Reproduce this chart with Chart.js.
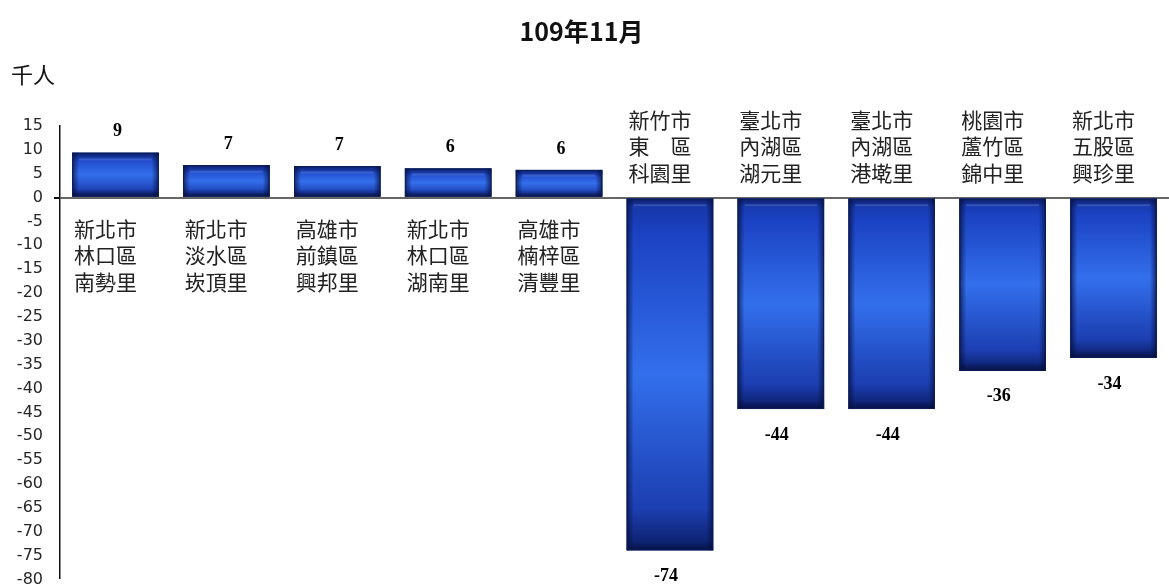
<!DOCTYPE html>
<html>
<head>
<meta charset="utf-8">
<title>109年11月</title>
<script src="https://cdn.jsdelivr.net/npm/chart.js@4/dist/chart.umd.min.js"></script>
<style>
  html, body { margin: 0; padding: 0; background: #fff; overflow: hidden; }
  #wrap { width: 1169px; height: 600px; position: relative; }
</style>
</head>
<body>
<div id="wrap"><canvas id="chart"></canvas></div>
<script>
// 109年11月 各村里人口增減（千人）
const title = '109年11月';
const unitLabel = '千人';

const villages = [
  ['新北市', '林口區', '南勢里'],
  ['新北市', '淡水區', '崁頂里'],
  ['高雄市', '前鎮區', '興邦里'],
  ['新北市', '林口區', '湖南里'],
  ['高雄市', '楠梓區', '清豐里'],
  ['新竹市', '東　區', '科園里'],
  ['臺北市', '內湖區', '湖元里'],
  ['臺北市', '內湖區', '港墘里'],
  ['桃園市', '蘆竹區', '錦中里'],
  ['新北市', '五股區', '興珍里']
];
const changes = [9.4, 6.8, 6.6, 6.1, 5.8, -73.9, -44.3, -44.3, -36.3, -33.6];

const yMin = -80;
const yMax = 15;
const yStep = 5;

// 長條立體漸層（依每根長條的位置重畫）
const barShade = {
  id: 'barShade',
  afterDatasetsDraw(chart) {
    const g = chart.ctx;
    g.save();
    chart.getDatasetMeta(0).data.forEach(el => {
      const top = Math.min(el.y, el.base);
      const bot = Math.max(el.y, el.base);
      const left = el.x - el.width / 2;
      const w = el.width;
      const hgt = bot - top;

      const base = g.createLinearGradient(0, top, 0, bot);
      base.addColorStop(0, '#1634a0');
      base.addColorStop(0.1, '#1b42c2');
      base.addColorStop(0.5, '#336fec');
      base.addColorStop(0.88, '#1c3fb2');
      base.addColorStop(1, '#0a1c62');
      g.fillStyle = base;
      g.fillRect(left, top, w, hgt);

      const h = g.createLinearGradient(left, 0, left + w, 0);
      h.addColorStop(0, 'rgba(5,12,55,0.7)');
      h.addColorStop(0.08, 'rgba(5,12,55,0)');
      h.addColorStop(0.92, 'rgba(5,12,55,0)');
      h.addColorStop(1, 'rgba(5,12,55,0.7)');
      g.fillStyle = h;
      g.fillRect(left, top, w, hgt);

      const e = Math.min(8, hgt / 4);
      const v1 = g.createLinearGradient(0, top, 0, top + e);
      v1.addColorStop(0, 'rgba(5,12,55,0.55)');
      v1.addColorStop(1, 'rgba(5,12,55,0)');
      g.fillStyle = v1;
      g.fillRect(left, top, w, e);
      const v2 = g.createLinearGradient(0, bot - e, 0, bot);
      v2.addColorStop(0, 'rgba(5,12,55,0)');
      v2.addColorStop(1, 'rgba(5,12,55,0.65)');
      g.fillStyle = v2;
      g.fillRect(left, bot - e, w, e);

      // 上緣高光
      g.fillStyle = 'rgba(140,170,240,0.25)';
      g.fillRect(left + w * 0.08, top + e * 0.7, w * 0.84, 2);

      g.strokeStyle = '#0c1d55';
      g.lineWidth = 1;
      g.strokeRect(left + 0.5, top + 0.5, w - 1, hgt - 1);
    });
    g.restore();
  }
};

// 標題、單位、村里名稱及數值
const labelsPlugin = {
  id: 'labelsPlugin',
  afterDraw(chart) {
    const g = chart.ctx;
    const y0 = chart.scales.y.getPixelForValue(0);
    g.save();
    g.fillStyle = '#111';
    g.textAlign = 'center';
    g.textBaseline = 'middle';
    g.font = 'bold 25px "Noto Sans CJK TC", "Noto Sans", sans-serif';
    g.fillText(title, chart.width / 2 - 3, 31);
    g.textAlign = 'left';
    g.font = '22px "Noto Sans CJK TC", sans-serif';
    g.fillText(unitLabel, 11, 75);

    chart.getDatasetMeta(0).data.forEach((el, i) => {
      const v = changes[i];
      g.fillStyle = '#000';
      g.textAlign = 'center';
      g.font = 'bold 18px "Liberation Serif", "Times New Roman", serif';
      const txt = String(Math.round(v));
      if (v >= 0) {
        g.fillText(txt, el.x + 2, el.y - 21);
      } else {
        g.fillText(txt, el.x - 4, el.y + 26);
      }
      g.fillStyle = '#222';
      g.font = '21px "Noto Sans CJK TC", sans-serif';
      villages[i].forEach((line, k) => {
        const ly = v >= 0 ? y0 + 31 + k * 26.5 : y0 - 78 + k * 26.5;
        g.fillText(line, el.x - 10, ly);
      });
    });
    g.restore();
  }
};

new Chart(document.getElementById('chart'), {
  type: 'bar',
  data: {
    labels: villages,
    datasets: [{
      data: changes,
      backgroundColor: '#2a5cd0',
      borderWidth: 0,
      barPercentage: 0.78,
      categoryPercentage: 1
    }]
  },
  options: {
    responsive: true,
    maintainAspectRatio: false,
    animation: false,
    layout: { padding: { top: 126, bottom: 0, left: 0, right: 0 } },
    plugins: {
      legend: { display: false },
      tooltip: { enabled: false },
      title: { display: false }
    },
    scales: {
      x: {
        display: false
      },
      y: {
        min: yMin,
        max: yMax,
        afterFit(s) { s.width = 60; },
        border: { display: true, color: '#111', width: 1.5 },
        grid: {
          color: c => c.tick.value === 0 ? '#666' : 'rgba(0,0,0,0)',
          lineWidth: c => c.tick.value === 0 ? 2 : 0,
          tickColor: '#111',
          tickLength: 6,
          drawTicks: true
        },
        ticks: {
          stepSize: yStep,
          padding: 11,
          color: '#262626',
          font: { family: '"DejaVu Sans", sans-serif', size: 16 }
        }
      }
    }
  },
  plugins: [barShade, labelsPlugin]
});
</script>
</body>
</html>
